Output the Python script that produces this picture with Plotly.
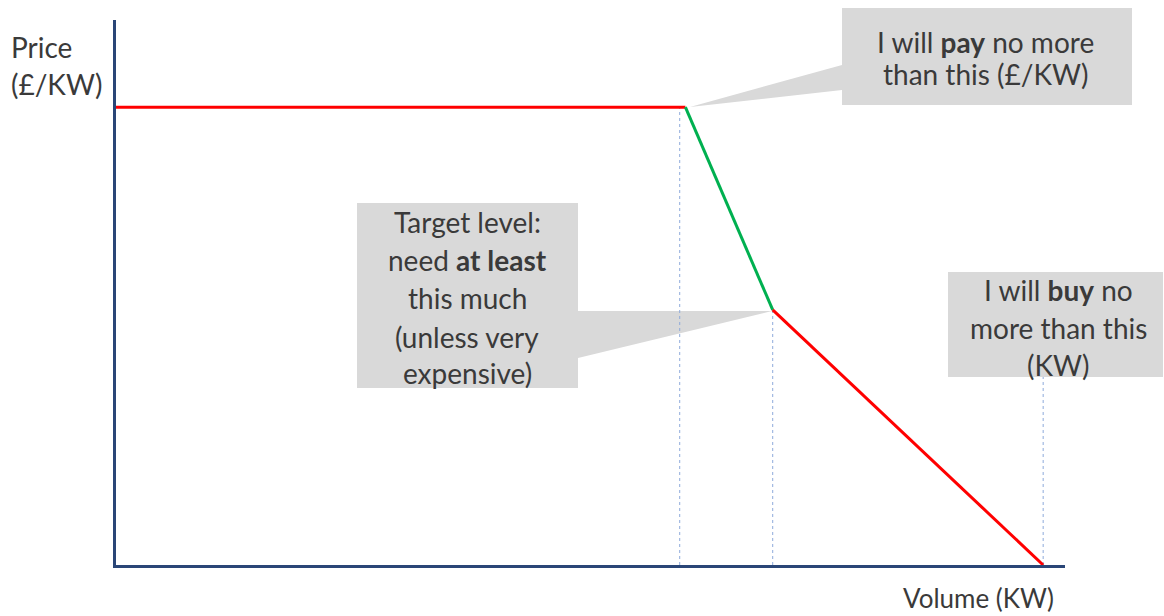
import plotly.graph_objects as go

# ---- data ----
volume = [0, 60, 69.2, 97.7]          # KW
price = [84, 84, 46.8, 0]             # £/KW
segment_colors = ["#ff0000", "#00b050", "#ff0000"]
guide_top = [84, 46.8, 34.5]          # top of dotted guide lines
guide_x = [59.4, 69.2, 97.7]

box1_lines = ["I will <b>pay</b> no more", "than this (£/KW)"]
box2_lines = ["Target level:", "need <b>at least</b>", "this much", "(unless very", "expensive)"]
box3_lines = ["I will <b>buy</b> no", "more than this", "(KW)"]

W, H = 1164, 616
L, R, T, B = 116, 1065, 20, 565
FONT = "Lato"
TXT = "#3a3a3a"
BOX = "#d9d9d9"
FS = 28


def px(x):
    return (x - L) / (R - L)


def py(y):
    return (B - y) / (B - T)


fig = go.Figure()

# dotted guide lines
for gx, gt in zip(guide_x, guide_top):
    fig.add_trace(go.Scatter(x=[gx, gx], y=[0, gt], mode="lines",
                             line=dict(color="#8eaadb", width=1, dash="dot"),
                             hoverinfo="skip", showlegend=False))

# curve segments
for i, c in enumerate(segment_colors):
    fig.add_trace(go.Scatter(x=volume[i:i + 2], y=price[i:i + 2], mode="lines",
                             line=dict(color=c, width=3),
                             hoverinfo="skip", showlegend=False))

shapes = []


def rect(x0, y0, x1, y1):
    shapes.append(dict(type="rect", xref="paper", yref="paper",
                       x0=px(x0), x1=px(x1), y0=py(y1), y1=py(y0),
                       fillcolor=BOX, line=dict(width=0), layer="below"))


def wedge(pts):
    d = "M " + " L ".join(f"{px(a)},{py(b)}" for a, b in pts) + " Z"
    shapes.append(dict(type="path", xref="paper", yref="paper", path=d,
                       fillcolor=BOX, line=dict(width=0), layer="below"))


rect(842, 8, 1132, 105)
wedge([(842, 65), (842, 90), (690, 107)])
rect(357, 203, 578, 388)
wedge([(578, 311), (578, 358), (772, 311)])
rect(948, 272, 1163, 377)

annotations = []


def text_lines(cx, ys, lines, anchor="center", size=FS):
    for yy, t in zip(ys, lines):
        annotations.append(dict(xref="paper", yref="paper", x=px(cx), y=py(yy),
                                text=t, showarrow=False, xanchor=anchor,
                                yanchor="middle",
                                font=dict(family=FONT, size=size, color=TXT)))


text_lines(985, [42, 74], box1_lines)
text_lines(467, [222, 260, 298, 337, 373], box2_lines)
text_lines(1058, [290, 328, 365], box3_lines)
text_lines(9, [47, 84], ["Price", "(£/KW)"], anchor="left")
text_lines(1056, [598], ["Volume (KW)"], anchor="right", size=26)

fig.update_layout(
    width=W, height=H,
    margin=dict(l=L, r=W - R, t=T, b=H - B, pad=0),
    paper_bgcolor="white", plot_bgcolor="white",
    shapes=shapes, annotations=annotations,
    xaxis=dict(range=[0, 100], showgrid=False, zeroline=False, showticklabels=False,
               ticks="", showline=True, linecolor="#2a4677", linewidth=3),
    yaxis=dict(range=[0, 100], showgrid=False, zeroline=False, showticklabels=False,
               ticks="", showline=True, linecolor="#2a4677", linewidth=3),
)

fig.write_html("out.html")
